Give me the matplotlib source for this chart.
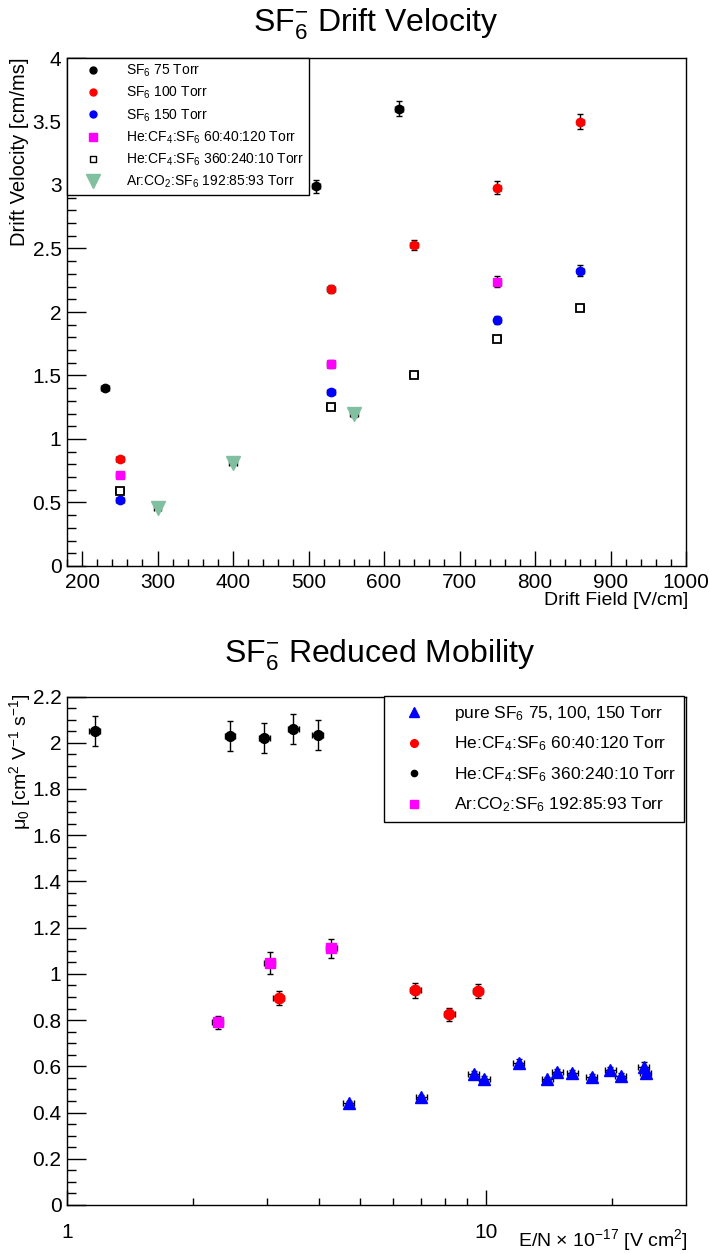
import matplotlib
matplotlib.use("Agg")
import matplotlib.pyplot as plt
from matplotlib.ticker import FixedLocator, NullFormatter, FuncFormatter
from matplotlib.lines import Line2D
import numpy as np

plt.rcParams['font.family'] = ['Liberation Sans', 'DejaVu Sans']
plt.rcParams['mathtext.fontset'] = 'custom'
plt.rcParams['mathtext.rm'] = 'Liberation Sans'
plt.rcParams['mathtext.it'] = 'Liberation Sans:italic'
plt.rcParams['mathtext.bf'] = 'Liberation Sans:bold'

# ---------------- Top chart data: drift velocity vs drift field ----------------
sf6_75_field = [230, 510, 620]
sf6_75_vel = [1.40, 2.99, 3.60]
sf6_75_err = [0.015, 0.05, 0.06]

sf6_100_field = [250, 530, 640, 750, 860]
sf6_100_vel = [0.84, 2.18, 2.525, 2.98, 3.50]
sf6_100_err = [0.015, 0.034, 0.04, 0.05, 0.06]

sf6_150_field = [250, 530, 750, 860]
sf6_150_vel = [0.52, 1.37, 1.935, 2.325]
sf6_150_err = [0.01, 0.02, 0.03, 0.043]

hecf4_a_field = [250, 530, 750]
hecf4_a_vel = [0.72, 1.59, 2.24]
hecf4_a_err = [0.01, 0.03, 0.04]

hecf4_b_field = [250, 530, 640, 750, 860]
hecf4_b_vel = [0.59, 1.25, 1.50, 1.79, 2.03]
hecf4_b_err = [0.01, 0.015, 0.015, 0.02, 0.02]

arco2_field = [300, 400, 560]
arco2_vel = [0.455, 0.81, 1.195]
arco2_err = [0.01, 0.015, 0.02]

field_err = 5.0

top_labels = ["SF$_6$ 75 Torr", "SF$_6$ 100 Torr", "SF$_6$ 150 Torr",
              "He:CF$_4$:SF$_6$ 60:40:120 Torr", "He:CF$_4$:SF$_6$ 360:240:10 Torr",
              "Ar:CO$_2$:SF$_6$ 192:85:93 Torr"]
top_yticks = [0, 0.5, 1, 1.5, 2, 2.5, 3, 3.5, 4]
top_xticks = [200, 300, 400, 500, 600, 700, 800, 900, 1000]

# ---------------- Bottom chart data: reduced mobility vs E/N ----------------
pure_en = [4.70, 7.01, 9.35, 9.91, 11.96, 14.0, 14.8, 16.06, 17.9, 19.8, 20.96, 23.8, 24.04]
pure_mu = [0.44, 0.468, 0.567, 0.545, 0.613, 0.543, 0.577, 0.570, 0.554, 0.584, 0.557, 0.597, 0.570]
pure_err = [0.01, 0.01, 0.012, 0.012, 0.02, 0.012, 0.012, 0.012, 0.012, 0.015, 0.012, 0.02, 0.015]

hecf4_a_en = [3.20, 6.78, 8.18, 9.57]
hecf4_a_mu = [0.897, 0.929, 0.825, 0.927]
hecf4_a_muerr = [0.03, 0.032, 0.027, 0.03]

hecf4_b_en = [1.164, 2.45, 2.96, 3.47, 3.97]
hecf4_b_mu = [2.05, 2.03, 2.02, 2.06, 2.035]
hecf4_b_muerr = [0.065, 0.065, 0.065, 0.065, 0.065]

arco2_en = [2.29, 3.05, 4.27]
arco2_mu = [0.79, 1.047, 1.11]
arco2_muerr = [0.029, 0.047, 0.04]

en_rel_err = 0.03

bot_labels = ["pure SF$_6$ 75, 100, 150 Torr", "He:CF$_4$:SF$_6$ 60:40:120 Torr",
              "He:CF$_4$:SF$_6$ 360:240:10 Torr", "Ar:CO$_2$:SF$_6$ 192:85:93 Torr"]
bot_yticks = [0, 0.2, 0.4, 0.6, 0.8, 1, 1.2, 1.4, 1.6, 1.8, 2, 2.2]

GREEN = '#80bfa0'

W, H = 710, 1254
fig = plt.figure(figsize=(W / 100, H / 100), dpi=100)

def fx(px):
    return px / W

def fy(py):
    return 1 - py / H

ax1 = fig.add_axes([fx(67), fy(566), fx(686) - fx(67), fy(58) - fy(566)])
ax2 = fig.add_axes([fx(67), fy(1205), fx(686) - fx(67), fy(696.5) - fy(1205)])

ekw = dict(ecolor='black', elinewidth=1.0, capsize=2.5, capthick=1.0, linestyle='none')

def eb(ax, x, y, yerr, xerr, **kw):
    return ax.errorbar(x, y, yerr=yerr, xerr=xerr, **ekw, **kw)

eb(ax1, sf6_75_field, sf6_75_vel, sf6_75_err, field_err, marker='o', ms=6, mfc='black', mec='black')
eb(ax1, sf6_100_field, sf6_100_vel, sf6_100_err, field_err, marker='o', ms=6, mfc='red', mec='red')
eb(ax1, sf6_150_field, sf6_150_vel, sf6_150_err, field_err, marker='o', ms=6, mfc='blue', mec='blue')
eb(ax1, hecf4_a_field, hecf4_a_vel, hecf4_a_err, field_err, marker='s', ms=6, mfc='magenta', mec='magenta')
eb(ax1, hecf4_b_field, hecf4_b_vel, hecf4_b_err, field_err, marker='s', ms=5.5, mfc='white', mec='black', mew=1.3)
eb(ax1, arco2_field, arco2_vel, arco2_err, field_err, marker='v', ms=10, mfc=GREEN, mec=GREEN)

ax1.set_xlim(180, 1000)
ax1.set_ylim(0, 4)
ax1.xaxis.set_major_locator(FixedLocator(top_xticks))
ax1.xaxis.set_minor_locator(FixedLocator(np.arange(180, 1001, 20)))
ax1.yaxis.set_major_locator(FixedLocator(top_yticks))
ax1.yaxis.set_minor_locator(FixedLocator(np.arange(0, 4.01, 0.1)))
ax1.yaxis.set_major_formatter(FuncFormatter(lambda v, p: '%g' % v))

leg_handles = [
    Line2D([], [], ls='none', marker='o', ms=5, mfc='black', mec='black'),
    Line2D([], [], ls='none', marker='o', ms=5, mfc='red', mec='red'),
    Line2D([], [], ls='none', marker='o', ms=5, mfc='blue', mec='blue'),
    Line2D([], [], ls='none', marker='s', ms=5.5, mfc='magenta', mec='magenta'),
    Line2D([], [], ls='none', marker='s', ms=5, mfc='white', mec='black', mew=1.0),
    Line2D([], [], ls='none', marker='v', ms=10, mfc=GREEN, mec=GREEN),
]
leg1 = ax1.legend(leg_handles, top_labels, loc='upper left', bbox_to_anchor=(0, 1),
                  borderaxespad=0, fontsize=10, frameon=True, fancybox=False,
                  edgecolor='black', framealpha=1, labelspacing=0.42,
                  handlelength=3.0, handletextpad=0.9, borderpad=0.35)
leg1.get_frame().set_linewidth(1.0)

# bottom chart
eb(ax2, pure_en, pure_mu, pure_err, [np.array(pure_en) * en_rel_err], marker='^', ms=8, mfc='blue', mec='blue')
eb(ax2, hecf4_a_en, hecf4_a_mu, hecf4_a_muerr, [np.array(hecf4_a_en) * en_rel_err], marker='o', ms=7.5, mfc='red', mec='red')
eb(ax2, hecf4_b_en, hecf4_b_mu, hecf4_b_muerr, [np.array(hecf4_b_en) * en_rel_err], marker='o', ms=7, mfc='black', mec='black')
eb(ax2, arco2_en, arco2_mu, arco2_muerr, [np.array(arco2_en) * en_rel_err], marker='s', ms=7, mfc='magenta', mec='magenta')

ax2.set_xscale('log')
ax2.set_xlim(1, 30)
ax2.set_ylim(0, 2.2)
ax2.xaxis.set_major_locator(FixedLocator([1, 10]))
ax2.xaxis.set_minor_locator(FixedLocator([2, 3, 4, 5, 6, 7, 8, 9, 20]))
ax2.xaxis.set_major_formatter(FuncFormatter(lambda v, p: '%g' % v))
ax2.xaxis.set_minor_formatter(NullFormatter())
ax2.yaxis.set_major_locator(FixedLocator(bot_yticks))
ax2.yaxis.set_minor_locator(FixedLocator(np.arange(0, 2.201, 0.05)))
ax2.yaxis.set_major_formatter(FuncFormatter(lambda v, p: '%g' % v))

leg_handles2 = [
    Line2D([], [], ls='none', marker='^', ms=6.5, mfc='blue', mec='blue'),
    Line2D([], [], ls='none', marker='o', ms=5.5, mfc='red', mec='red'),
    Line2D([], [], ls='none', marker='o', ms=4.5, mfc='black', mec='black'),
    Line2D([], [], ls='none', marker='s', ms=6, mfc='magenta', mec='magenta'),
]
leg2 = ax2.legend(leg_handles2, bot_labels, loc='upper right', bbox_to_anchor=(fx(684), fy(696)),
                  bbox_transform=fig.transFigure, borderaxespad=0, fontsize=12.5,
                  frameon=True, fancybox=False, edgecolor='black', framealpha=1,
                  labelspacing=0.68, handlelength=2.6, handletextpad=1.0, borderpad=0.45)
leg2.get_frame().set_linewidth(1.0)

for ax in (ax1, ax2):
    for s in ax.spines.values():
        s.set_linewidth(1.0)
        s.set_color('black')
    ax.tick_params(which='both', direction='in', top=False, right=False, labelsize=15, width=1.0)

ax1.tick_params(axis='y', which='major', length=13.4, pad=4)
ax1.tick_params(axis='y', which='minor', length=6.7)
ax1.tick_params(axis='x', which='major', length=10.8, pad=5)
ax1.tick_params(axis='x', which='minor', length=5.4)
ax2.tick_params(axis='y', which='major', length=13.4, pad=4)
ax2.tick_params(axis='y', which='minor', length=6.7)
ax2.tick_params(axis='x', which='major', length=10.8, pad=13)
ax2.tick_params(axis='x', which='minor', length=5.4)

# titles and axis titles
fig.text(fx(376), fy(24), "SF$_{6}^{-}$ Drift Velocity", ha='center', va='center', fontsize=23)
fig.text(fx(380), fy(655), "SF$_{6}^{-}$ Reduced Mobility", ha='center', va='center', fontsize=23)

fig.text(fx(688), fy(600), "Drift Field [V/cm]", ha='right', va='center', fontsize=14)
fig.text(fx(20), fy(58), "Drift Velocity [cm/ms]", ha='center', va='top', rotation=90, fontsize=14.5)

fig.text(fx(688), fy(1240), "E/N × 10$^{-17}$ [V cm$^{2}$]", ha='right', va='center', fontsize=14)
fig.text(fx(20), fy(693), "μ$_{0}$ [cm$^{2}$ V$^{-1}$ s$^{-1}$]", ha='center', va='top', rotation=90, fontsize=14)

fig.savefig("out.png", dpi=100)
